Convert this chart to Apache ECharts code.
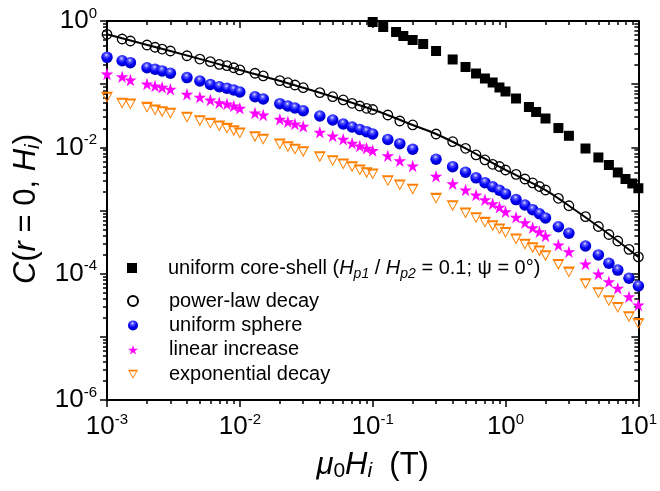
<!DOCTYPE html>
<html><head><meta charset="utf-8">
<script src="https://cdn.jsdelivr.net/npm/echarts@6/dist/echarts.min.js"></script>
<style>html,body{margin:0;padding:0;background:#fff}#c{width:660px;height:491px}</style>
</head><body><div id="c"></div>
<script>
// ---- data ----
const fieldX = [0.001,0.0013,0.0015,0.002,0.0023,0.0026,0.003,0.004,0.005,0.006,0.007,0.008,0.009,
  0.01,0.013,0.015,0.02,0.023,0.026,0.03,0.04,0.05,0.06,0.07,0.08,0.09,
  0.1,0.13,0.16,0.2,0.3,0.4,0.5,0.6,0.7,0.8,0.9,
  1,1.2,1.4,1.6,1.8,2,2.5,3,4,5,6,7,8.5,10];
const powerLaw = [0.616,0.519,0.482,0.417,0.384,0.360,0.335,0.282,0.250,0.227,0.206,0.196,0.182,
  0.168,0.149,0.135,0.1135,0.1055,0.0970,0.0879,0.0733,0.0633,0.0562,0.0498,0.0451,0.0415,
  0.0397,0.0325,0.0261,0.0226,0.01626,0.01228,0.00966,0.00757,0.00631,0.00539,0.00497,
  0.00438,0.00374,0.00315,0.00273,0.00240,0.00211,0.00156,0.00119,0.000798,0.000558,0.000417,0.000329,0.000243,0.000184];
const uniformSphere = [0.266,0.235,0.219,0.182,0.172,0.162,0.149,0.127,0.112,0.0988,0.0912,0.0860,0.0809,
  0.0752,0.0633,0.0582,0.0491,0.0451,0.0420,0.0379,0.0313,0.0271,0.0234,0.0210,0.01916,0.01769,
  0.01627,0.01331,0.01142,0.00931,0.00649,0.00494,0.00404,0.00329,0.00276,0.00238,0.00209,
  0.00183,0.00149,0.00122,0.00103,0.000890,0.000761,0.000554,0.000436,0.000274,0.000198,0.000146,0.000114,0.0000845,0.0000638];
const linearIncrease = [0.145,0.131,0.116,0.1006,0.0935,0.0892,0.0829,0.0691,0.0620,0.0562,0.0509,0.0485,0.0451,
  0.0415,0.0350,0.0325,0.0278,0.0255,0.0234,0.0215,0.01737,0.01512,0.01341,0.01158,0.01050,0.00966,
  0.00891,0.00737,0.00614,0.00507,0.00348,0.00266,0.00211,0.00176,0.00148,0.00128,0.00113,
  0.000958,0.000781,0.000641,0.000534,0.000462,0.000395,0.000284,0.000223,0.000142,0.0000988,0.0000746,0.0000587,0.0000432,0.0000319];
const expDecay = [0.0620,0.0498,0.0485,0.0430,0.0390,0.0367,0.0346,0.0299,0.0264,0.0240,0.0218,0.0200,0.01834,
  0.01687,0.01474,0.01341,0.01129,0.01023,0.00931,0.00853,0.00711,0.00614,0.00545,0.00494,0.00438,0.00397,
  0.00378,0.00296,0.00253,0.00217,0.00156,0.00119,0.000913,0.000769,0.000650,0.000575,0.000510,
  0.000449,0.000354,0.000292,0.000258,0.000229,0.000193,0.000140,0.000106,0.0000694,0.0000498,0.0000372,0.0000291,0.0000208,0.0000162];
const coreShellX = [0.1,0.12,0.15,0.17,0.2,0.24,0.3,0.4,0.5,0.6,0.7,0.8,0.9,1,1.2,1.5,1.7,2,2.5,3,4,5,6,7,8,9,10];
const coreShell = [0.964,0.804,0.670,0.579,0.500,0.432,0.335,0.246,0.187,0.1475,0.123,0.1063,0.0886,0.0766,0.0593,0.0435,0.0363,0.0286,0.0202,0.01523,0.00958,0.00691,0.00525,0.00400,0.00315,0.00268,0.00225];
const fitX = [0.001,0.003,0.01,0.03,0.1,0.2,0.3,0.5,1,2,3,5,7,10];
const fitY = [0.616,0.335,0.168,0.0879,0.0397,0.0226,0.01626,0.00966,0.00438,0.00211,0.00119,0.000558,0.000329,0.000184];

const seriesNames = ['uniform core-shell','power-law decay','uniform sphere','linear increase','exponential decay'];
const xDecades = [0.001,0.01,0.1,1];
const yDecades = [0.000001,0.00001,0.0001,0.001,0.01,0.1];
const minorMultipliers = [2,3,4,5,6,7,8,9];
const X_MIN = 0.001, X_MAX = 10, Y_MIN = 0.000001, Y_MAX = 1;

// ---- helpers ----
const FONT = 'Liberation Sans, Arial, Helvetica, sans-serif';
const zip = (xs, ys) => xs.map((x, i) => [x, ys[i]]);
const xMinorVals = [], yMinorVals = [];
xDecades.forEach(d => minorMultipliers.forEach(m => xMinorVals.push(d * m)));
yDecades.forEach(d => minorMultipliers.forEach(m => yMinorVals.push(d * m)));

const STAR = 'path://M50,0 L61.23,34.55 L97.55,34.55 L68.17,55.9 L79.39,90.45 L50,69.1 L20.61,90.45 L31.83,55.9 L2.45,34.55 L38.77,34.55 Z';
const TRI = 'path://M0,0 L100,0 L50,90 Z M19,17 L50,73 L81,17 Z';
const sphereColor = {type:'radial', x:0.45, y:0.3, r:0.75, colorStops:[
  {offset:0, color:'#e4e4ff'},{offset:0.2, color:'#5a5aff'},{offset:0.55, color:'#0000f5'},{offset:1, color:'#0000b0'}]};

const tickLabelRich = {
  b: {fontSize: 26, fontFamily: FONT, color: '#000', lineHeight: 30},
  s: {fontSize: 15, fontFamily: FONT, color: '#000', lineHeight: 15, verticalAlign: 'top'}
};
const expOf = v => Math.round(Math.log10(v));
const axisCommon = {
  type: 'log', logBase: 10, interval: 1,
  axisLine: {show: true, onZero: false, lineStyle: {color: '#000', width: 2}},
  axisTick: {show: true, length: 7, lineStyle: {color: '#000', width: 1.5}},
  splitLine: {show: false}, minorTick: {show: false}, minorSplitLine: {show: false}
};
// extra tick-only axes carrying the minor log ticks (2..9 of each decade)
const minorAxis = (position, min, max, values, inside) => ({
  type: 'log', logBase: 10, position: position, min: min, max: max, interval: 1, offset: 0,
  axisLine: {show: false, onZero: false},
  axisTick: {show: true, inside: inside, length: 4, customValues: values, lineStyle: {color: '#000', width: 1.5}},
  axisLabel: {show: false}, splitLine: {show: false}, minorTick: {show: false}, axisPointer: {show: false}
});
const titleRich = {
  n: {fontSize: 31, fontFamily: FONT, color: '#000', lineHeight: 34},
  i: {fontSize: 31, fontFamily: FONT, color: '#000', fontStyle: 'italic', lineHeight: 34},
  sub: {fontSize: 21, fontFamily: FONT, color: '#000', fontStyle: 'normal', lineHeight: 19, verticalAlign: 'bottom'},
  subi: {fontSize: 21, fontFamily: FONT, color: '#000', fontStyle: 'italic', lineHeight: 19, verticalAlign: 'bottom'}
};
const scatterStyle = (o) => Object.assign({opacity: 1}, o);

const chart = echarts.init(document.getElementById('c'));
chart.setOption({
  animation: false,
  backgroundColor: '#fff',
  grid: {left: 107, right: 17, top: 21, bottom: 91, containLabel: false},
  xAxis: [
    Object.assign({}, axisCommon, {
      position: 'bottom', min: X_MIN, max: X_MAX,
      axisLabel: {margin: 12, formatter: v => '{b|10}{s|' + expOf(v) + '}', rich: tickLabelRich},
      name: '{i|μ}{sub|0}{i|H}{subi|i}{n|  (T)}', nameLocation: 'middle', nameGap: 48,
      nameTextStyle: {fontSize: 31, fontFamily: FONT, color: '#000', rich: titleRich}
    }),
    Object.assign({}, axisCommon, {
      position: 'top', min: X_MIN, max: X_MAX,
      axisTick: {show: true, inside: true, length: 7, lineStyle: {color: '#000', width: 1.5}},
      axisLabel: {show: false}
    }),
    minorAxis('bottom', X_MIN, X_MAX, xMinorVals, false),
    minorAxis('top', X_MIN, X_MAX, xMinorVals, true)
  ],
  yAxis: [
    Object.assign({}, axisCommon, {
      position: 'left', min: Y_MIN, max: Y_MAX,
      axisLabel: {margin: 10, formatter: v => { const e = expOf(v); return e % 2 === 0 ? '{b|10}{s|' + e + '}' : ''; }, rich: tickLabelRich},
      name: '{i|C}{n|(}{i|r}{n| = 0, }{i|H}{subi|i}{n|)}', nameLocation: 'middle', nameGap: 62, nameRotate: 90,
      nameTextStyle: {fontSize: 31, fontFamily: FONT, color: '#000', rich: titleRich, padding: [0, 0, 0, 3]}
    }),
    Object.assign({}, axisCommon, {
      position: 'right', min: Y_MIN, max: Y_MAX,
      axisTick: {show: true, inside: true, length: 7, lineStyle: {color: '#000', width: 1.5}},
      axisLabel: {show: false}
    }),
    minorAxis('left', Y_MIN, Y_MAX, yMinorVals, false),
    minorAxis('right', Y_MIN, Y_MAX, yMinorVals, true)
  ],
  legend: [
    {
      data: [seriesNames[0]], orient: 'vertical', left: 122, top: 250,
      itemWidth: 10, itemHeight: 10, selectedMode: false,
      formatter: () => 'uniform core-shell ({i|H}{sub|p1} / {i|H}{sub|p2} = 0.1; ψ = 0°)',
      textStyle: {fontSize: 20, fontFamily: FONT, color: '#000', lineHeight: 26, padding: [0, 0, 0, 26],
        rich: {
          i: {fontSize: 20, fontFamily: FONT, color: '#000', fontStyle: 'italic', lineHeight: 26},
          sub: {fontSize: 14, fontFamily: FONT, color: '#000', fontStyle: 'italic', lineHeight: 14, verticalAlign: 'bottom'}
        }}
    },
    {
      data: seriesNames.slice(1), orient: 'vertical', left: 122, top: 286, itemGap: 4.4,
      itemWidth: 10, itemHeight: 10, selectedMode: false,
      textStyle: {fontSize: 20, fontFamily: FONT, color: '#000', lineHeight: 20, padding: [0, 0, 0, 26]}
    }
  ],
  series: [
    {type: 'line', name: 'fit', data: zip(fitX, fitY), showSymbol: false, symbol: 'none', smooth: 0.35,
      lineStyle: {color: '#000', width: 2}, z: 3, silent: true},
    {type: 'scatter', name: seriesNames[0], data: zip(coreShellX, coreShell), symbol: 'rect', symbolSize: 10,
      itemStyle: scatterStyle({color: '#000'}), z: 4},
    {type: 'scatter', name: seriesNames[1], data: zip(fieldX, powerLaw), symbol: 'circle', symbolSize: 9.5,
      itemStyle: scatterStyle({color: 'rgba(255,255,255,0)', borderColor: '#000', borderWidth: 1.3}), z: 5},
    {type: 'scatter', name: seriesNames[2], data: zip(fieldX, uniformSphere), symbol: 'circle', symbolSize: 11.5,
      itemStyle: scatterStyle({color: sphereColor}), z: 4},
    {type: 'scatter', name: seriesNames[3], data: zip(fieldX, linearIncrease), symbol: STAR, symbolSize: 12.5,
      itemStyle: scatterStyle({color: '#ff00ff'}), z: 4},
    {type: 'scatter', name: seriesNames[4], data: zip(fieldX, expDecay), symbol: TRI, symbolSize: [12, 11],
      itemStyle: scatterStyle({color: '#ff7f00'}), z: 4}
  ]
});
</script></body></html>
